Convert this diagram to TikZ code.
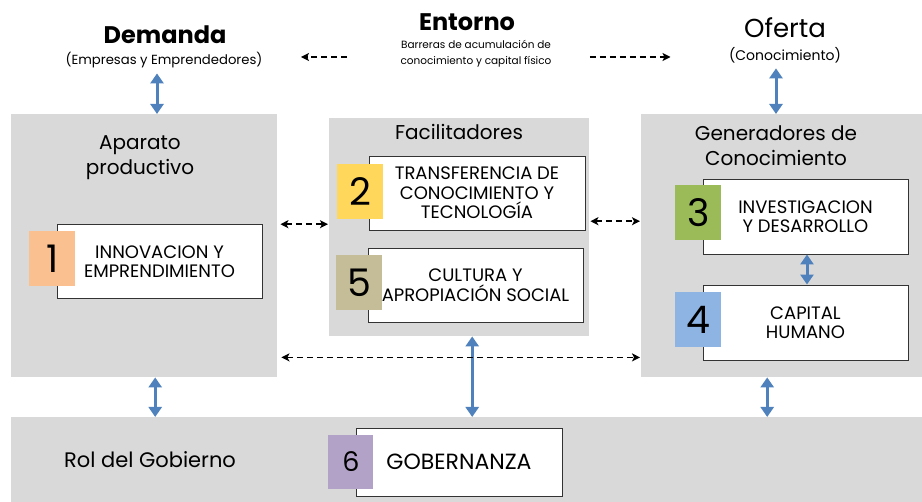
\documentclass[tikz,border=0pt]{standalone}
\usepackage{fontspec}
\setmainfont{Poppins}
\usetikzlibrary{arrows,arrows.meta,positioning}

\definecolor{gris}{HTML}{D9D9D9}
\definecolor{azul}{HTML}{4F81BD}
\definecolor{naranja}{HTML}{FAC090}
\definecolor{amarillo}{HTML}{FFD75A}
\definecolor{verde}{HTML}{9BBB59}
\definecolor{celeste}{HTML}{8DB4E2}
\definecolor{caqui}{HTML}{C4BD97}
\definecolor{lila}{HTML}{B3A2C7}

\begin{document}
\begin{tikzpicture}[x=1pt,y=-1pt,>=stealth',
  grupo/.style={fill=gris,draw=none,anchor=north west,inner sep=0pt},
  caja/.style={draw=black!80,fill=white,line width=0.9pt,minimum width=205pt,
               minimum height=74pt,align=center,inner sep=2pt,
               font=\fontsize{18}{19.5}\selectfont},
  num/.style={draw=none,minimum width=46pt,minimum height=55pt,inner sep=0pt,
              anchor=east,font=\fontsize{38}{38}\selectfont},
  titulo/.style={align=center,font=\fontsize{20}{25}\selectfont},
  azulflecha/.style={<->,>={Triangle[length=10pt,width=13pt]},azul,line width=3pt},
  punteada/.style={<->,>={Stealth[length=8pt,width=8pt,inset=2pt]},line width=1.5pt,
                   dash pattern=on 6pt off 4pt}]

  \useasboundingbox (0,0) rectangle (922,502);

  % grupos
  \node[grupo,minimum width=266pt,minimum height=263pt] (g1) at (11,114) {};
  \node[grupo,minimum width=260pt,minimum height=218pt] (g2) at (329,118) {};
  \node[grupo,minimum width=281pt,minimum height=263pt] (g3) at (641,114) {};
  \node[grupo,minimum width=911pt,minimum height=85pt]  (g4) at (11,417) {};

  \node[titulo] (apa) at (140,158) {Aparato\\productivo};
  \node[titulo] (fac) at (459,132) {Facilitadores};
  \node[titulo] (gen) at (776,146) {Generadores de\\Conocimiento};
  \node[titulo,font=\fontsize{21}{25}\selectfont] (rol) at (150,460) {Rol del Gobierno};

  % cajas
  \node[caja] (b1) at (159.5,261.5) {INNOVACION Y\\EMPRENDIMIENTO};
  \node[caja,minimum width=216pt] (b2) at (477,193) {TRANSFERENCIA DE\\CONOCIMIENTO Y\\TECNOLOGÍA};
  \node[caja,minimum width=215pt] (b5) at (475.5,285) {CULTURA Y\\APROPIACIÓN SOCIAL};
  \node[caja,minimum height=75pt] (b3) at (805.5,216.5) {INVESTIGACION\\Y DESARROLLO};
  \node[caja,minimum height=75pt] (b4) at (805.5,322.5) {CAPITAL\\HUMANO};
  \node[caja,minimum width=206pt,minimum height=68pt,font=\fontsize{22}{22}\selectfont] (b6) at (459,462) {GOBERNANZA};

  \node[num,fill=naranja] (n1) at ([xshift=19pt,yshift=2.5pt]b1.west) {1};
  \node[num,fill=amarillo] (n2) at ([xshift=15pt,yshift=1.5pt]b2.west) {2};
  \node[num,fill=caqui] (n5) at ([xshift=15pt,yshift=2pt]b5.west) {5};
  \node[num,fill=verde] (n3) at ([xshift=19pt,yshift=3.5pt]b3.west) {3};
  \node[num,fill=celeste] (n4) at ([xshift=19pt,yshift=3pt]b4.west) {4};
  \node[num,fill=lila,minimum width=45pt,minimum height=54pt,
        font=\fontsize{27}{27}\selectfont] (n6) at ([xshift=18pt]b6.west) {6};

  % entorno
  \node[font=\bfseries\fontsize{24}{24}\selectfont] (dem) at (165,35) {Demanda};
  \node[font=\fontsize{13.2}{16}\selectfont] (emp) at (164,60) {(Empresas y Emprendedores)};
  \node[font=\bfseries\fontsize{24}{24}\selectfont] (ent) at (467,22) {Entorno};
  \node[align=center,font=\fontsize{10.5}{16}\selectfont] (barr) at (476,54)
       {Barreras de acumulación de\\conocimiento y capital físico};
  \node[font=\fontsize{26}{26}\selectfont] (ofe) at (785,28) {Oferta};
  \node[font=\fontsize{14}{16}\selectfont] (con) at (785,55) {(Conocimiento)};

  % conexiones
  \draw[azulflecha] ([xshift=-7pt,yshift=-2pt]emp.south) -- ([xshift=-7pt]emp.south |- g1.north);
  \draw[azulflecha] ([xshift=-9pt,yshift=-2pt]con.south) -- ([xshift=-9pt]con.south |- g3.north);
  \draw[azulflecha] ([xshift=11pt]g1.south) -- ([xshift=11pt]g1.south |- g4.north);
  \draw[azulflecha] ([xshift=13pt]g2.south) -- ([xshift=13pt]g2.south |- g4.north);
  \draw[azulflecha] ([xshift=-14.5pt]g3.south) -- ([xshift=-14.5pt]g3.south |- g4.north);
  \draw[azulflecha] ([xshift=1.5pt]b3.south) -- ([xshift=1.5pt]b4.north);

  \draw[punteada,shorten <=3pt,shorten >=1pt] ([yshift=3pt]g1.east |- g2.west) -- ([yshift=3pt]g2.west);
  \draw[punteada,shorten <=1pt,shorten >=1pt] ([yshift=6pt]g2.east) -- ([yshift=6pt]g2.east -| g3.west);
  \draw[punteada,shorten <=4pt,shorten >=1pt] ([yshift=20pt]g1.south east) -- ([yshift=20pt]g3.south west);
  \draw[punteada,-,shorten <=50pt,shorten >=35pt] ([yshift=-3pt]barr.west) edge[->] ([yshift=-3pt]barr.west -| emp.east);
  \draw[punteada,-,shorten <=35pt,shorten >=55pt] ([yshift=-3pt]barr.east) edge[->] ([yshift=-3pt]barr.east -| con.west);
\end{tikzpicture}
\end{document}
